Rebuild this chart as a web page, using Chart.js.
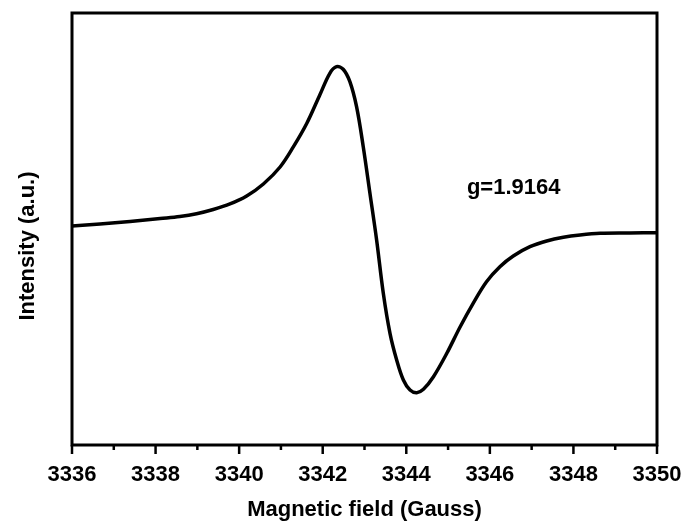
<!DOCTYPE html>
<html>
<head>
<meta charset="utf-8">
<script src="https://cdn.jsdelivr.net/npm/chart.js@4/dist/chart.umd.min.js"></script>
<style>
  body{margin:0;background:#fff;}
  #wrap{width:687px;height:523px;}
</style>
</head>
<body>
<div id="wrap"><canvas id="epr"></canvas></div>
<script>
// ---------------- Dados ----------------
const field = [3336.00,3336.67,3337.39,3338.11,3338.58,3338.98,3339.38,3339.78,3340.18,3340.58,3340.98,3341.30,3341.62,3341.93,3342.17,3342.33,3342.49,3342.65,3342.81,3342.97,3343.13,3343.29,3343.45,3343.61,3343.77,3343.93,3344.09,3344.25,3344.41,3344.65,3344.97,3345.29,3345.60,3345.92,3346.24,3346.56,3346.96,3347.36,3347.76,3348.16,3348.64,3349.35,3350.00];
const intensity = [0.69,1.16,1.74,2.43,2.89,3.53,4.51,5.79,7.64,10.42,14.35,19.05,24.47,31.02,36.04,37.57,36.97,34.10,28.31,19.05,8.26,-2.55,-14.88,-24.14,-30.32,-34.95,-37.27,-37.89,-37.11,-34.19,-28.77,-22.62,-17.20,-12.20,-8.73,-6.25,-4.10,-2.78,-1.92,-1.39,-1.00,-0.93,-0.86];
const xTicks = [3336,3337,3338,3339,3340,3341,3342,3343,3344,3345,3346,3347,3348,3349,3350];
const gLabel = "g=1.9164";
const gPos = [3345.45, 9.5];
const yTitle = "Intensity (a.u.)";
const xTitle = "Magnetic field (Gauss)";

const FONT = "'Liberation Sans', Arial, sans-serif";

// moldura + ticks + textos
const framePlugin = {
  id:"frame",
  afterDraw(chart){
    const {ctx, chartArea:a, scales:{x,y}} = chart;
    ctx.save();
    ctx.strokeStyle="#000";
    ctx.lineWidth=3;
    ctx.strokeRect(a.left, a.top, a.right-a.left, a.bottom-a.top);
    ctx.lineWidth=2.5;
    xTicks.forEach(v=>{
      const px=x.getPixelForValue(v);
      const len = v%2===0 ? 9 : 5;
      ctx.beginPath(); ctx.moveTo(px,a.bottom); ctx.lineTo(px,a.bottom+len); ctx.stroke();
    });
    ctx.fillStyle="#000";
    ctx.font="bold 22px "+FONT;
    ctx.textAlign="left"; ctx.textBaseline="middle";
    ctx.fillText(gLabel, x.getPixelForValue(gPos[0]), y.getPixelForValue(gPos[1]));
    // titulo do eixo y
    ctx.translate(28,246);
    ctx.rotate(-Math.PI/2);
    ctx.textAlign="center";
    ctx.fillText(yTitle,0,0);
    ctx.restore();
  }
};

new Chart(document.getElementById("epr"),{
  type:"line",
  data:{datasets:[{
    data: field.map((f,i)=>({x:f,y:intensity[i]})),
    borderColor:"#000", borderWidth:3.5, pointRadius:0,
    tension:0.35, fill:false
  }]},
  options:{
    responsive:true, maintainAspectRatio:false, animation:false,
    layout:{padding:{left:0,right:30,top:13,bottom:0}},
    plugins:{legend:{display:false}, tooltip:{enabled:false}},
    scales:{
      x:{
        type:"linear", min:3336, max:3350,
        border:{display:false}, grid:{display:false},
        ticks:{stepSize:2, color:"#000", padding:9, font:{family:FONT, size:22, weight:"bold"},
               callback:v=>String(v)},
        title:{display:true, text:xTitle, color:"#000", padding:{top:8,bottom:0}, font:{family:FONT, size:22, weight:"bold"}},
        afterFit:s=>{s.height=78; s.paddingLeft=0; s.paddingRight=0;}
      },
      y:{
        min:-50, max:50,
        border:{display:false}, grid:{display:false},
        ticks:{display:false},
        afterFit:s=>{s.width=72;}
      }
    }
  },
  plugins:[framePlugin]
});
</script>
</body>
</html>
